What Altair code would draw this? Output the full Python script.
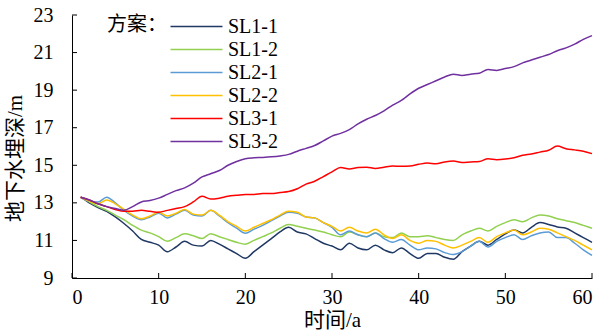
import altair as alt
import pandas as pd

years = list(range(1, 61))

sl1_1 = [13.3, 13.0, 12.75, 12.55, 12.25, 11.9, 11.5, 11.05, 10.9, 10.75,
         10.4, 10.65, 10.95, 10.75, 10.7, 11.0, 10.8, 10.55, 10.3, 10.05,
         10.4, 10.75, 11.1, 11.45, 11.7, 11.45, 11.35, 11.1, 10.85, 10.7,
         10.5, 10.85, 10.6, 10.5, 10.75, 10.5, 10.35, 10.6, 10.3, 10.05,
         10.3, 10.3, 10.1, 10.0, 10.4, 10.7, 10.95, 10.75, 11.05, 11.35,
         11.55, 11.4, 11.7, 11.95, 11.85, 11.72, 11.65, 11.4, 11.15, 10.9]
sl1_2 = [13.3, 13.05, 12.8, 12.6, 12.35, 12.1, 11.8, 11.55, 11.4, 11.2,
         10.95, 11.15, 11.35, 11.25, 11.1, 11.35, 11.2, 11.05, 10.9, 10.8,
         11.0, 11.2, 11.4, 11.65, 11.85, 11.75, 11.65, 11.55, 11.45, 11.3,
         11.2, 11.45, 11.3, 11.2, 11.4, 11.2, 11.15, 11.4, 11.2, 11.2,
         11.25, 11.15, 11.05, 11.0, 11.3, 11.5, 11.65, 11.5, 11.75, 11.95,
         12.1, 12.0, 12.2, 12.35, 12.3, 12.15, 12.05, 11.95, 11.8, 11.65]
sl2_1 = [13.3, 13.1, 13.05, 13.3, 13.0, 12.6, 12.3, 12.1, 12.25, 12.45,
         12.2, 12.4, 12.6, 12.35, 12.3, 12.6, 12.3, 11.95, 11.65, 11.38,
         11.6, 11.8, 12.05, 12.3, 12.5, 12.45, 12.25, 12.2, 11.95, 11.7,
         11.3, 11.5, 11.3, 11.2, 11.4, 11.1, 10.9, 11.05, 10.75, 10.5,
         10.6, 10.55, 10.35, 10.25, 10.4, 10.7, 10.95, 10.65, 10.95, 11.15,
         11.3, 11.05, 11.25, 11.4, 11.45, 11.15, 11.15, 10.85, 10.5, 10.2]
sl2_2 = [13.3, 13.1, 12.95, 13.15, 12.95, 12.65, 12.35, 12.15, 12.3, 12.5,
         12.3, 12.45, 12.65, 12.4, 12.35, 12.6, 12.35, 12.0, 11.75, 11.5,
         11.7, 11.9, 12.1, 12.35, 12.55, 12.5, 12.25, 12.2, 11.95, 11.75,
         11.5, 11.7, 11.5, 11.4, 11.6, 11.3, 11.1, 11.3, 11.0, 10.85,
         11.0, 10.95, 10.75, 10.6, 10.75, 10.95, 11.15, 10.9, 11.2, 11.4,
         11.55, 11.3, 11.45, 11.65, 11.6, 11.4, 11.2, 11.0, 10.75, 10.5]
sl3_1 = [13.3, 13.15, 12.95, 12.8, 12.65, 12.55, 12.55, 12.6, 12.55, 12.5,
         12.6, 12.7, 12.8, 13.05, 13.35, 13.2, 13.25, 13.35, 13.4, 13.45,
         13.45, 13.5, 13.5, 13.55, 13.6, 13.75, 14.0, 14.15, 14.4, 14.65,
         14.88, 14.8, 14.88, 14.9, 14.83, 14.9, 14.96, 14.95, 14.96, 15.05,
         15.12, 15.08, 15.18, 15.23, 15.15, 15.18, 15.2, 15.35, 15.3, 15.33,
         15.4, 15.53, 15.6, 15.7, 15.8, 16.02, 15.88, 15.82, 15.75, 15.62]
sl3_2 = [13.3, 13.15, 12.95, 12.8, 12.7, 12.6, 12.8, 13.05, 13.12, 13.25,
         13.45, 13.65, 13.8, 14.05, 14.38, 14.55, 14.72, 15.0, 15.2, 15.35,
         15.4, 15.42, 15.45, 15.5, 15.58, 15.75, 15.9, 16.05, 16.3, 16.55,
         16.7, 16.9, 17.2, 17.45, 17.65, 17.9, 18.2, 18.45, 18.8, 19.1,
         19.3, 19.5, 19.7, 19.85, 19.78, 19.85, 19.9, 20.1, 20.05, 20.15,
         20.25, 20.45, 20.6, 20.75, 20.9, 21.1, 21.25, 21.45, 21.7, 21.9]

series_names = ["SL1-1", "SL1-2", "SL2-1", "SL2-2", "SL3-1", "SL3-2"]
series_vals = [sl1_1, sl1_2, sl2_1, sl2_2, sl3_1, sl3_2]
colors = ["#203864", "#92D050", "#5B9BD5", "#FFC000", "#FF0000", "#7030A0"]

y_ticks = [9, 11, 13, 15, 17, 19, 21, 23]
x_ticks = [0, 10, 20, 30, 40, 50, 60]

rows = []
for name, vals in zip(series_names, series_vals):
    for t, v in zip(years, vals):
        rows.append({"year": t, "depth": v, "scheme": name})
df = pd.DataFrame(rows)

LATIN = "Times New Roman, Liberation Serif, DejaVu Serif, serif"
CJK = "Times New Roman, Liberation Serif, Noto Sans CJK SC, serif"

xscale = alt.Scale(domain=[0, 60], nice=False, zero=False)
yscale = alt.Scale(domain=[9, 23], nice=False, zero=False)

xaxis = alt.Axis(values=x_ticks, title="时间/a", ticks=False,
                 labelPadding=9, titlePadding=2, grid=False,
                 labelFont=LATIN, titleFont=CJK)
yaxis = alt.Axis(values=y_ticks, title="地下水埋深/m", ticks=False,
                 labelPadding=19, titlePadding=8, grid=False, titleY=143,
                 labelFont=LATIN, titleFont=CJK)

lines = alt.Chart(df).mark_line(strokeWidth=1.5, interpolate="monotone").encode(
    x=alt.X("year:Q", scale=xscale, axis=xaxis),
    y=alt.Y("depth:Q", scale=yscale, axis=yaxis),
    color=alt.Color("scheme:N",
                    scale=alt.Scale(domain=series_names, range=colors),
                    sort=series_names,
                    legend=alt.Legend(title="方案：", orient="none",
                                      legendX=35, legendY=0,
                                      titleOrient="left", titleAnchor="start",
                                      titleFontSize=20, titleFont=CJK,
                                      titleFontWeight="normal", titleColor="#000",
                                      titlePadding=18, titleBaseline="top",
                                      symbolType="M-2.5,0H2.5", symbolSize=432,
                                      symbolStrokeWidth=1.5,
                                      labelFontSize=20, labelFont=LATIN,
                                      labelColor="#000", labelOffset=20,
                                      rowPadding=1)),
)

ytick_df = pd.DataFrame({"v": y_ticks})
xtick_df = pd.DataFrame({"v": x_ticks})

yt = alt.Chart(ytick_df).mark_rule(color="#000", strokeWidth=1).encode(
    y=alt.Y("v:Q", scale=yscale, axis=yaxis),
    x=alt.value(0), x2=alt.value(5),
)
xt = alt.Chart(xtick_df).mark_rule(color="#000", strokeWidth=1).encode(
    x=alt.X("v:Q", scale=xscale, axis=xaxis),
    y=alt.value(263), y2=alt.value(258),
)

chart = alt.layer(lines, yt, xt).properties(
    width=520, height=263,
    padding={"left": 72, "top": 15, "right": 10, "bottom": 56},
    autosize=alt.AutoSizeParams(type="none"),
).configure(font=LATIN).configure_view(stroke=None).configure_axis(
    domainColor="#000", domainWidth=1,
    labelFont=LATIN, labelFontSize=20, labelColor="#000",
    titleFont=CJK, titleFontSize=21, titleColor="#000", titleFontWeight="normal",
).configure_legend(labelFont=LATIN, titleFont=CJK)

chart.save("out.html", embed_options={"renderer": "svg", "actions": False})
